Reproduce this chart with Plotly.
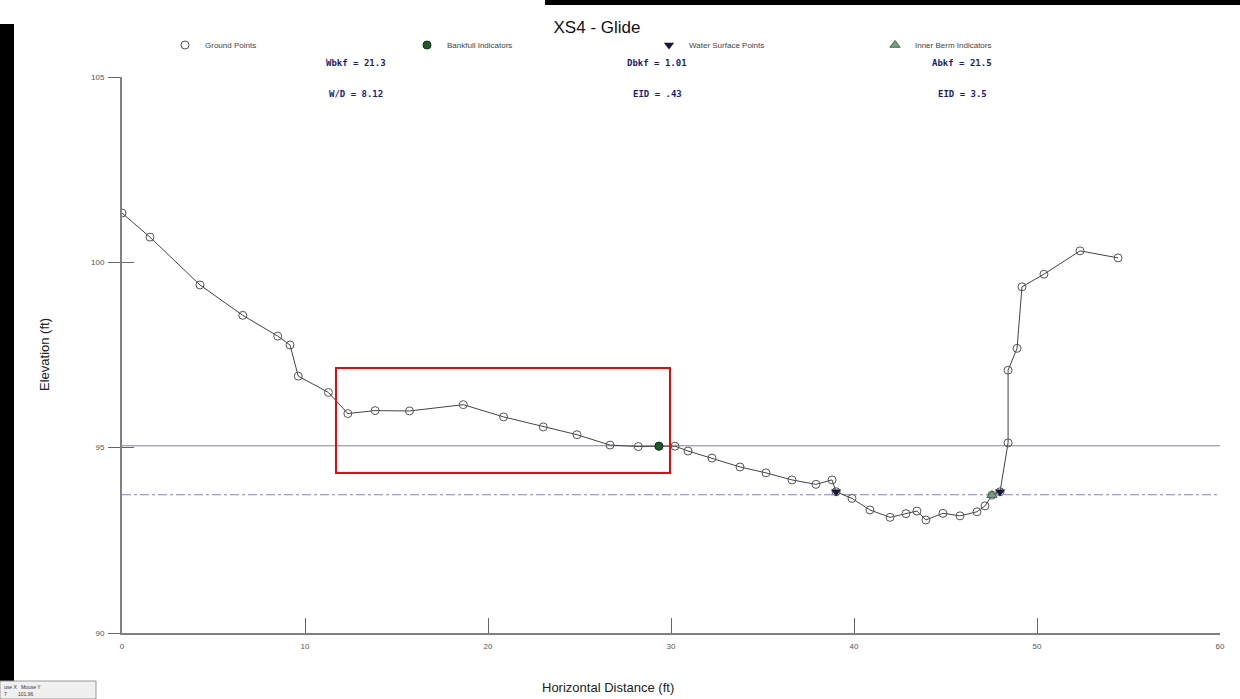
import plotly.graph_objects as go

# ---- data ----
ground_x = [0, 1.53, 4.26, 6.60, 8.51, 9.18, 9.63, 11.28, 12.34, 13.83,
            15.71, 18.65, 20.85, 23.02, 24.86, 26.67, 28.21, 29.34, 30.22, 30.93,
            32.24, 33.77, 35.19, 36.61, 37.92, 38.80, 39.02, 39.89, 40.87, 41.97,
            42.84, 43.44, 43.93, 44.86, 45.79, 46.72, 47.16, 47.54, 47.98, 48.42,
            48.42, 48.91, 49.18, 50.38, 52.35, 54.43]
ground_y = [101.33, 100.68, 99.39, 98.57, 98.01, 97.77, 96.93, 96.49, 95.92, 96.00,
            95.99, 96.16, 95.83, 95.56, 95.35, 95.07, 95.03, 95.04, 95.04, 94.91,
            94.72, 94.48, 94.32, 94.13, 94.01, 94.13, 93.81, 93.63, 93.32, 93.12,
            93.22, 93.29, 93.05, 93.23, 93.16, 93.27, 93.43, 93.72, 93.81, 95.13,
            97.09, 97.68, 99.34, 99.68, 100.31, 100.12]

bankfull_x = [29.34]
bankfull_y = [95.04]
bankfull_elev = 95.05

ws_x = [39.02, 47.98]
ws_y = [93.81, 93.81]
ws_elev = 93.73

berm_x = [47.54]
berm_y = [93.72]

x_ticks = [0, 10, 20, 30, 40, 50, 60]
y_ticks = [90, 95, 100, 105]
x_range = [0, 60]
y_range = [90, 105]

stats_col1 = ["Wbkf = 21.3", "W/D = 8.12"]
stats_col2 = ["Dbkf = 1.01", "EID = .43"]
stats_col3 = ["Abkf = 21.5", "EID = 3.5"]

# ---- figure ----
W, H = 1240, 699
L, R, T, B = 122, 20, 77, 66
pw, ph = W - L - R, H - T - B

def px_x(p):
    return (p - L) / pw

def px_y(p):
    return (H - B - p) / ph

fig = go.Figure()

# reference lines (bankfull, water surface)
fig.add_trace(go.Scatter(x=x_range, y=[bankfull_elev, bankfull_elev], mode="lines",
                         line=dict(color="#7c80a6", width=1), showlegend=False,
                         hoverinfo="skip"))
fig.add_trace(go.Scatter(x=x_range, y=[ws_elev, ws_elev], mode="lines",
                         line=dict(color="#8385b8", width=1, dash="dashdot"),
                         showlegend=False, hoverinfo="skip"))

ground_marker = dict(symbol="circle-open", size=8, color="#555555", line=dict(width=1))
fig.add_trace(go.Scatter(x=ground_x, y=ground_y, mode="lines+markers",
                         name="Ground Points", showlegend=False,
                         line=dict(color="#444444", width=1),
                         marker=ground_marker))
# legend entry for ground points (marker only, as in the reference)
fig.add_trace(go.Scatter(x=[None], y=[None], mode="markers", name="Ground Points",
                         marker=ground_marker, legend="legend", hoverinfo="skip"))
fig.add_trace(go.Scatter(x=bankfull_x, y=bankfull_y, mode="markers",
                         name="Bankfull Indicators",
                         marker=dict(symbol="circle", size=8, color="#1f5a2a",
                                     line=dict(color="#0d3315", width=1)),
                         legend="legend2"))
fig.add_trace(go.Scatter(x=ws_x, y=ws_y, mode="markers",
                         name="Water Surface Points",
                         marker=dict(symbol="triangle-down", size=9, color="#16163f"),
                         legend="legend3"))
fig.add_trace(go.Scatter(x=berm_x, y=berm_y, mode="markers",
                         name="Inner Berm Indicators",
                         marker=dict(symbol="triangle-up", size=9, color="#7d9a86",
                                     line=dict(color="#3f6b4b", width=1)),
                         legend="legend4"))

leg_font = dict(family="Liberation Sans, Arial, sans-serif", size=8, color="#444444")
legend_centers = [191, 433, 675, 901]
leg_common = dict(orientation="h", yanchor="middle", xanchor="left",
                  font=leg_font, bgcolor="rgba(0,0,0,0)", borderwidth=0,
                  itemwidth=30, tracegroupgap=0)
legends = {}
for i, cx in enumerate(legend_centers):
    key = "legend" if i == 0 else f"legend{i+1}"
    legends[key] = dict(leg_common, x=px_x(cx - 26), y=px_y(45))

annotations = []
stat_font = dict(family="DejaVu Sans Mono, monospace", size=9, color="#1c1c78")
for cx, col in zip([356, 657, 962], [stats_col1, stats_col2, stats_col3]):
    for py, txt in zip([63, 94], col):
        annotations.append(dict(x=px_x(cx), y=px_y(py), xref="paper", yref="paper",
                                text=f"<b>{txt}</b>", showarrow=False,
                                font=stat_font, xanchor="center", yanchor="middle"))

annotations.append(dict(x=px_x(608), y=px_y(687), xref="paper", yref="paper",
                        text="Horizontal Distance (ft)", showarrow=False,
                        font=dict(family="Liberation Sans, Arial, sans-serif",
                                  size=13, color="#222222"),
                        xanchor="center", yanchor="middle"))
annotations.append(dict(x=px_x(44), y=px_y(355), xref="paper", yref="paper",
                        text="Elevation (ft)", showarrow=False, textangle=-90,
                        font=dict(family="Liberation Sans, Arial, sans-serif",
                                  size=13, color="#222222"),
                        xanchor="center", yanchor="middle"))
# screenshot widget text bottom-left
annotations.append(dict(x=px_x(2), y=px_y(690), xref="paper", yref="paper",
                        text="use X   Mouse Y<br>7        101.96", showarrow=False,
                        align="left",
                        font=dict(family="Liberation Sans", size=5, color="#333"),
                        xanchor="left", yanchor="middle"))

shapes = [
    # red highlight box
    dict(type="rect", xref="paper", yref="paper",
         x0=px_x(336), x1=px_x(670), y0=px_y(473), y1=px_y(368),
         line=dict(color="#ff0000", width=2), fillcolor="rgba(0,0,0,0)"),
    # black screenshot bars
    dict(type="rect", xref="paper", yref="paper",
         x0=px_x(0), x1=px_x(14), y0=px_y(699), y1=px_y(24),
         line=dict(width=0), fillcolor="#000000"),
    dict(type="rect", xref="paper", yref="paper",
         x0=px_x(545), x1=px_x(1240), y0=px_y(5), y1=px_y(0),
         line=dict(width=0), fillcolor="#000000"),
    dict(type="rect", xref="paper", yref="paper",
         x0=px_x(0), x1=px_x(96), y0=px_y(699), y1=px_y(681),
         line=dict(color="#999", width=1), fillcolor="#f0f0f0"),
]

axis_font = dict(family="Liberation Sans, Arial, sans-serif", size=8, color="#555555")
fig.update_layout(
    width=W, height=H,
    margin=dict(l=L, r=R, t=T, b=B, pad=0),
    paper_bgcolor="white", plot_bgcolor="white",
    title=dict(text="XS4 - Glide", x=597 / W, xanchor="center",
               y=1 - 27 / H, yanchor="middle",
               font=dict(family="Liberation Sans, Arial, sans-serif", size=17,
                         color="#111111")),
    xaxis=dict(range=x_range, tickvals=x_ticks, ticks="inside", ticklen=15,
               tickcolor="#666666", tickwidth=1, showgrid=False, zeroline=False,
               showline=True, linecolor="#808080", linewidth=2,
               tickfont=axis_font, ticklabelstandoff=4),
    yaxis=dict(range=y_range, tickvals=y_ticks, ticks="outside", ticklen=12,
               tickcolor="#666666", tickwidth=1, showgrid=False, zeroline=False,
               showline=True, linecolor="#808080", linewidth=2,
               tickfont=axis_font, ticklabelstandoff=2),
    yaxis2=dict(range=y_range, tickvals=y_ticks, ticks="inside", ticklen=12,
                tickcolor="#666666", overlaying="y", side="left",
                showticklabels=False, showgrid=False, zeroline=False,
                showline=False),
    annotations=annotations,
    shapes=shapes,
    **legends,
)
# dummy trace to activate yaxis2 ticks
fig.add_trace(go.Scatter(x=[None], y=[None], yaxis="y2", showlegend=False,
                         hoverinfo="skip"))

fig.write_html("out.html")
